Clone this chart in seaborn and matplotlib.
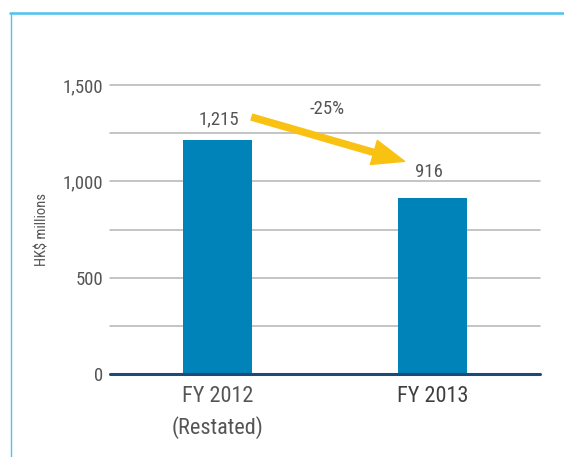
import matplotlib
matplotlib.use("Agg")
import matplotlib.pyplot as plt
from matplotlib.lines import Line2D
from matplotlib import font_manager
import seaborn as sns
import pandas as pd

# Profit figures, HK$ millions
categories = ["FY 2012\n(Restated)", "FY 2013"]
values = [1215, 916]
value_labels = ["1,215", "916"]
change_label = "-25%"
y_ticks = [0, 500, 1000, 1500]
y_tick_labels = ["0", "500", "1,000", "1,500"]
y_minor = [250, 750, 1250]

sns.set_theme(style="white")
fonts = font_manager.fontManager.ttflist
names = {f.name for f in fonts}
narrow = [n for n in ("Liberation Sans Narrow", "Roboto Condensed", "Open Sans Condensed")
          if n in names]
plt.rcParams["font.family"] = narrow + ["DejaVu Sans"]
if not narrow and any(f.name == "DejaVu Sans" and f.stretch == "condensed" for f in fonts):
    plt.rcParams["font.stretch"] = "condensed"

BAR = "#0083b8"
GRID = "#b4b4b4"
TEXT = "#555555"
TEXT_DARK = "#3f3f3f"
FRAME = "#4cc3ee"
ARROW = "#f9c213"
NAVY = "#1b4a78"

df = pd.DataFrame({"period": categories, "amount": values})

fig = plt.figure(figsize=(5.64, 4.57), dpi=100)
ax = fig.add_axes([110 / 564, 1 - 374 / 457, 430 / 564, (374 - 85) / 457])

sns.barplot(data=df, x="period", y="amount", color=BAR, saturation=1,
            width=0.32, ax=ax, zorder=3, linewidth=0, edgecolor="none")

ax.set_xlim(-0.5, 1.5)
ax.set_ylim(0, 1500)
for s in ax.spines.values():
    s.set_visible(False)

for v in y_ticks[1:] + y_minor:
    ax.axhline(v, color=GRID, lw=1.1, zorder=1, clip_on=False)
ax.axhline(0, color=NAVY, lw=2.2, zorder=4, clip_on=False)

ax.set_yticks(y_ticks)
ax.set_yticklabels(y_tick_labels, color=TEXT, fontsize=13.5)
ax.tick_params(axis="y", length=0, pad=5)
ax.tick_params(axis="x", length=0, pad=9)
xlabels = ax.get_xticklabels()
for lbl in xlabels:
    lbl.set_fontsize(16)
    lbl.set_color(TEXT)
    lbl.set_linespacing(1.5)
xlabels[-1].set_color(TEXT_DARK)
ax.set_xlabel("")
ax.set_ylabel("HK$ millions", color=TEXT, fontsize=10.5, labelpad=9)

# value labels above bars
for i, (v, t, dx) in enumerate(zip(values, value_labels, (0.7, -2.5))):
    ax.annotate(t, (i, v), xytext=(dx, 8 + 4 * i), textcoords="offset points",
                ha="center", va="bottom", fontsize=13.5, color=TEXT)

# change arrow from first to second bar
ax.annotate("", xy=(1 - 0.13, values[1] + 188), xytext=(0.16, values[0] + 118),
            arrowprops=dict(arrowstyle="simple,head_length=1.15,head_width=0.9,tail_width=0.22",
                            mutation_scale=20, color=ARROW, shrinkA=0, shrinkB=0),
            zorder=5, annotation_clip=False)
ax.text(0.51, 1375, change_label, ha="center", va="center", fontsize=13.5, color=TEXT)

# panel frame
fig.add_artist(Line2D([10 / 564, 1], [1 - 13 / 457] * 2, color=FRAME, lw=1.8,
                      transform=fig.transFigure))
fig.add_artist(Line2D([11 / 564] * 2, [0, 1 - 13 / 457], color=FRAME, lw=1.0,
                      transform=fig.transFigure))

fig.savefig("out.png", dpi=100, facecolor="white")
